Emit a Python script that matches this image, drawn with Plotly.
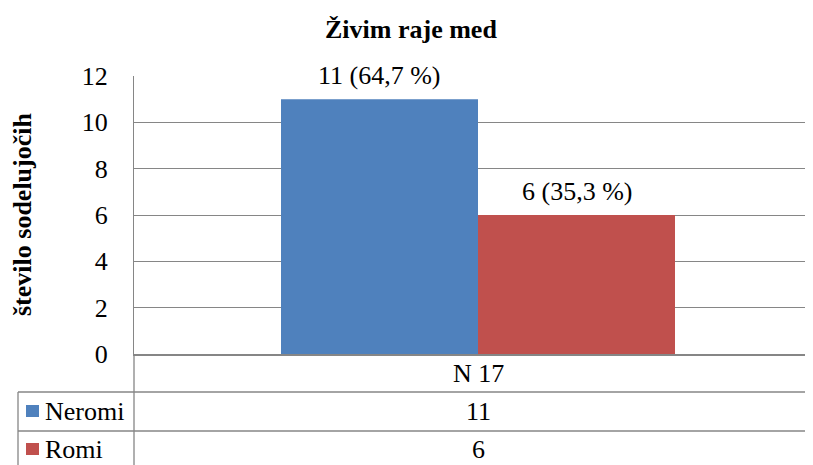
import plotly.graph_objects as go

# ---- data ----
categories = ["N 17"]
series_names = ["Neromi", "Romi"]
series_values = [11, 6]
value_labels = ["11 (64,7 %)", "6 (35,3 %)"]
y_ticks = [0, 2, 4, 6, 8, 10, 12]
title_text = "Živim raje med"
y_title = "število sodelujočih"

# ---- style ----
colors = ["#4F81BD", "#C0504D"]
FONT = "Times New Roman, Liberation Serif, serif"
GRID = "#868686"
OFF = 8  # default page body margin
W, H = 813 - OFF, 465 - OFF
# reference pixel geometry (page coords)
PLOT_LEFT, PLOT_TOP, PLOT_BOTTOM = 134, 76, 354
L = PLOT_LEFT - OFF
T = PLOT_TOP - OFF
B = H - (PLOT_BOTTOM - OFF)
R = 0
plot_w = W - L - R
plot_h = H - T - B

def px_x(p):
    return (p - PLOT_LEFT) / plot_w

def px_y(p):
    return (PLOT_BOTTOM - p) / plot_h

cat_px = 688.0
bar_w = 197 / cat_px
offsets = [-bar_w, 0.0]

fig = go.Figure()
for name, val, col, off in zip(series_names, series_values, colors, offsets):
    fig.add_trace(go.Bar(
        x=categories, y=[val], name=name, width=bar_w, offset=off,
        marker=dict(color=col, line=dict(width=0)), showlegend=False,
    ))

txt = dict(family=FONT, size=26, color="black")
annotations = []
# data labels
for val, lab, off in zip(series_values, value_labels, offsets):
    annotations.append(dict(
        x=off + bar_w / 2, y=val, xref="x", yref="y", text=lab,
        showarrow=False, yanchor="middle", yshift=24, font=txt,
    ))

# title
annotations.append(dict(
    x=px_x(411), y=px_y(30), xref="paper", yref="paper", text="<b>%s</b>" % title_text,
    showarrow=False, xanchor="center", yanchor="middle",
    font=dict(family=FONT, size=26, color="black"),
))

# y axis title
annotations.append(dict(
    x=px_x(22), y=px_y(215), xref="paper", yref="paper", text="<b>%s</b>" % y_title,
    showarrow=False, textangle=-90, xanchor="center", yanchor="middle",
    font=dict(family=FONT, size=26, color="black"),
))

# data table: category row
row_centers = [373, 411, 449]
annotations.append(dict(
    x=0, y=px_y(row_centers[0]), xref="x", yref="paper", text=categories[0],
    showarrow=False, xanchor="center", yanchor="middle", font=txt,
))
shapes = []
for i, (name, val, col) in enumerate(zip(series_names, series_values, colors)):
    yc = row_centers[i + 1]
    annotations.append(dict(
        x=0, y=px_y(yc), xref="x", yref="paper", text=str(val),
        showarrow=False, xanchor="center", yanchor="middle", font=txt,
    ))
    annotations.append(dict(
        x=px_x(43), y=px_y(yc), xref="paper", yref="paper", text=name,
        showarrow=False, xanchor="left", yanchor="middle", font=txt,
    ))
    shapes.append(dict(
        type="rect", xref="paper", yref="paper",
        x0=px_x(26), x1=px_x(39), y0=px_y(yc - 6), y1=px_y(yc + 6),
        fillcolor=col, line=dict(width=0),
    ))

line_style = dict(color=GRID, width=1.3)
# table grid lines
shapes += [
    dict(type="line", xref="paper", yref="paper", x0=0, x1=0, y0=0, y1=px_y(470), line=line_style),
    dict(type="line", xref="paper", yref="paper", x0=px_x(18), x1=1, y0=px_y(392), y1=px_y(392), line=line_style),
    dict(type="line", xref="paper", yref="paper", x0=px_x(18), x1=1, y0=px_y(431), y1=px_y(431), line=line_style),
    dict(type="line", xref="paper", yref="paper", x0=px_x(18), x1=px_x(18), y0=px_y(392), y1=px_y(470), line=line_style),
]

fig.update_layout(
    width=W, height=H,
    margin=dict(l=L, r=R, t=T, b=B, pad=0),
    paper_bgcolor="white", plot_bgcolor="white",
    font=txt,
    barmode="overlay",
    annotations=annotations,
    shapes=shapes,
    xaxis=dict(
        type="category", range=[-0.5, -0.5 + plot_w / cat_px],
        showticklabels=False, showgrid=False, zeroline=False,
        showline=True, linecolor=GRID, linewidth=1.5, ticks="",
        fixedrange=True,
    ),
    yaxis=dict(
        range=[0, 12], tickvals=y_ticks, ticktext=[str(v) for v in y_ticks],
        showgrid=True, gridcolor=GRID, gridwidth=1,
        zeroline=False, showline=True, linecolor=GRID, linewidth=1.3,
        ticks="", ticklabelstandoff=20, tickfont=txt,
        fixedrange=True,
    ),
)

fig.write_html("out.html")
